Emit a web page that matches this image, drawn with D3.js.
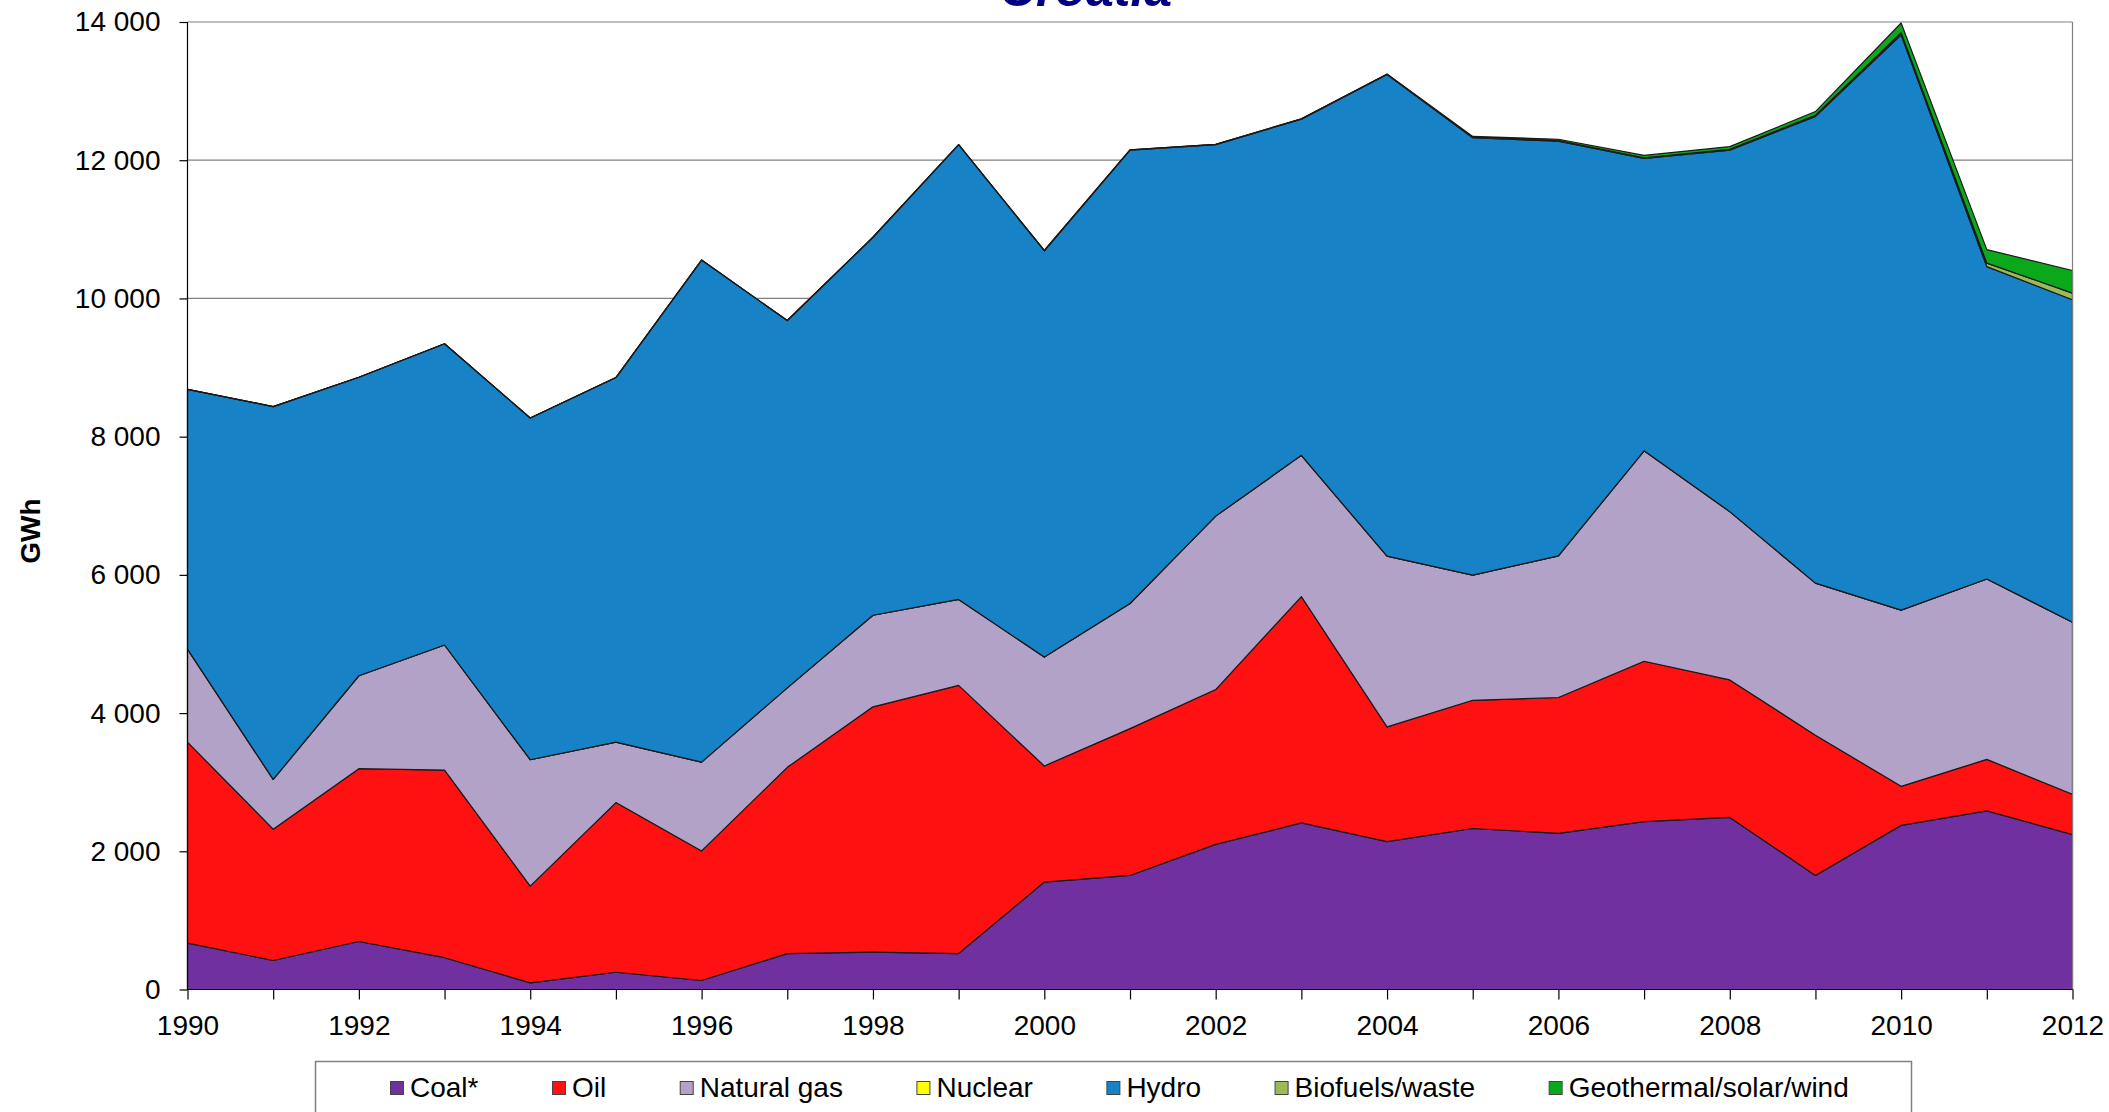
<!DOCTYPE html>
<meta charset="utf-8">
<style>
    body { margin: 0; background: #fff; }
    text { font-family: "Liberation Sans", Arial, sans-serif; }
    .grid line { stroke: #808080; stroke-width: 1.2px; }
    .axis text { font-size: 28px; fill: #000; }
    .axis path, .axis line { stroke: #000; stroke-width: 1.2px; }
    .layer { stroke: #1a1a1a; stroke-width: 1.2px; stroke-linejoin: round; }
</style>
<body>
<script src="https://cdn.jsdelivr.net/npm/d3@7"></script>
<script>

    // electricity generation, GWh
    var years = d3.range(1990, 2013);

    var coal    = [670, 420, 695, 460, 95, 250, 130, 520, 540, 520, 1555, 1650, 2100, 2410, 2140, 2330, 2260, 2430, 2490, 1650, 2375, 2585, 2240];
    var oil     = [2910, 1900, 2500, 2715, 1400, 2455, 1875, 2695, 3550, 3880, 1680, 2125, 2240, 3275, 1660, 1855, 1965, 2320, 1990, 2030, 565, 745, 585];
    var gas     = [1345, 720, 1345, 1810, 1830, 875, 1285, 1150, 1325, 1245, 1575, 1810, 2510, 2045, 2470, 1810, 2050, 3045, 2435, 2200, 2550, 2610, 2490];
    var nuclear = [0, 0, 0, 0, 0, 0, 0, 0, 0, 0, 0, 0, 0, 0, 0, 0, 0, 0, 0, 0, 0, 0, 0];
    var hydro   = [3760, 5395, 4320, 4360, 4945, 5275, 7265, 5315, 5470, 6580, 5880, 6560, 5375, 4865, 6970, 6330, 6000, 4230, 5230, 6755, 8325, 4520, 4665];
    var biofuel = [0, 0, 0, 0, 0, 0, 0, 0, 0, 0, 5, 5, 5, 5, 5, 5, 8, 10, 12, 15, 30, 50, 97];
    var geoSolarWind = [0, 0, 0, 0, 0, 0, 0, 0, 0, 0, 0, 0, 0, 0, 1, 15, 20, 35, 40, 54, 140, 196, 327];

    var seriesNames  = ["Coal*", "Oil", "Natural gas", "Nuclear", "Hydro", "Biofuels/waste", "Geothermal/solar/wind"];
    var seriesValues = [coal, oil, gas, nuclear, hydro, biofuel, geoSolarWind];
    var seriesColors = ["#7030A0", "#FF1111", "#B2A2C7", "#FFFF00", "#1782C5", "#9BBB59", "#0AA81A"];

    var yTicks = d3.range(0, 14001, 2000);
    var xLabels = d3.range(1990, 2013, 2);

    var width = 2109,
        height = 1112,
        plotL = 187.5, plotR = 2072.5, plotT = 22, plotB = 989.5;

    var table = years.map(function(yr, i) {
        var row = {year: yr};
        seriesNames.forEach(function(n, k) { row[n] = seriesValues[k][i]; });
        return row;
    });

    var x = d3.scaleLinear().domain([1990, 2012]).range([plotL, plotR]);
    var y = d3.scaleLinear().domain([0, 14000]).range([plotB, plotT]);

    var svg = d3.select("body").append("svg")
        .attr("width", width)
        .attr("height", height);

    // title, mostly cut off at the top edge
    svg.append("text")
        .attr("x", 1086)
        .attr("y", 6)
        .attr("text-anchor", "middle")
        .style("font-size", "50px")
        .style("font-weight", "bold")
        .style("font-style", "italic")
        .style("fill", "#000080")
        .text("Croatia");

    svg.append("g")
        .attr("class", "grid")
        .selectAll("line")
        .data(yTicks.slice(1))
        .enter().append("line")
        .attr("x1", plotL).attr("x2", plotR)
        .attr("y1", function(d) { return y(d); })
        .attr("y2", function(d) { return y(d); });

    var layers = d3.stack().keys(seriesNames)(table);

    var area = d3.area()
        .x(function(d) { return x(d.data.year); })
        .y0(function(d) { return y(d[0]); })
        .y1(function(d) { return y(d[1]); });

    svg.selectAll(".layer")
        .data(layers)
        .enter().append("path")
        .attr("class", "layer")
        .attr("fill", function(d, i) { return seriesColors[i]; })
        .attr("d", area);

    // plot frame on the right
    svg.append("line")
        .attr("x1", plotR).attr("x2", plotR)
        .attr("y1", plotT).attr("y2", plotB)
        .style("stroke", "#808080").style("stroke-width", "1.2px");

    var fmt = d3.formatLocale({decimal: ",", thousands: " ", grouping: [3], currency: ["", ""]}).format(",d");

    svg.append("g")
        .attr("class", "axis")
        .attr("transform", "translate(" + plotL + ",0)")
        .call(d3.axisLeft(y).tickValues(yTicks).tickFormat(fmt).tickSize(8).tickPadding(19))
        .call(function(g) { g.select(".domain").attr("d", "M0," + plotT + "V" + plotB); });

    svg.append("g")
        .attr("class", "axis")
        .attr("transform", "translate(0," + plotB + ")")
        .call(d3.axisBottom(x).tickValues(years).tickSize(10).tickPadding(16)
            .tickFormat(function(d) { return xLabels.indexOf(d) >= 0 ? d : ""; }))
        .call(function(g) { g.select(".domain").attr("d", "M" + plotL + ",0H" + plotR); });

    svg.append("text")
        .attr("transform", "translate(40,531)rotate(-90)")
        .attr("text-anchor", "middle")
        .style("font-size", "28px")
        .style("font-weight", "bold")
        .text("GWh");

    // legend
    var legend = svg.append("g");
    legend.append("rect")
        .attr("x", 315.5).attr("y", 1061.5)
        .attr("width", 1596).attr("height", 80)
        .style("fill", "#fff").style("stroke", "#808080").style("stroke-width", "1.5px");

    var lx = 390;
    seriesNames.forEach(function(n, i) {
        legend.append("rect")
            .attr("x", lx + 0.5).attr("y", 1081.5)
            .attr("width", 13).attr("height", 13)
            .style("fill", seriesColors[i])
            .style("stroke", "#444").style("stroke-width", "1px");
        var t = legend.append("text")
            .attr("x", lx + 20).attr("y", 1097)
            .style("font-size", "28px")
            .text(n);
        lx += 20 + t.node().getComputedTextLength() + 73.5;
    });

</script>
</body>
